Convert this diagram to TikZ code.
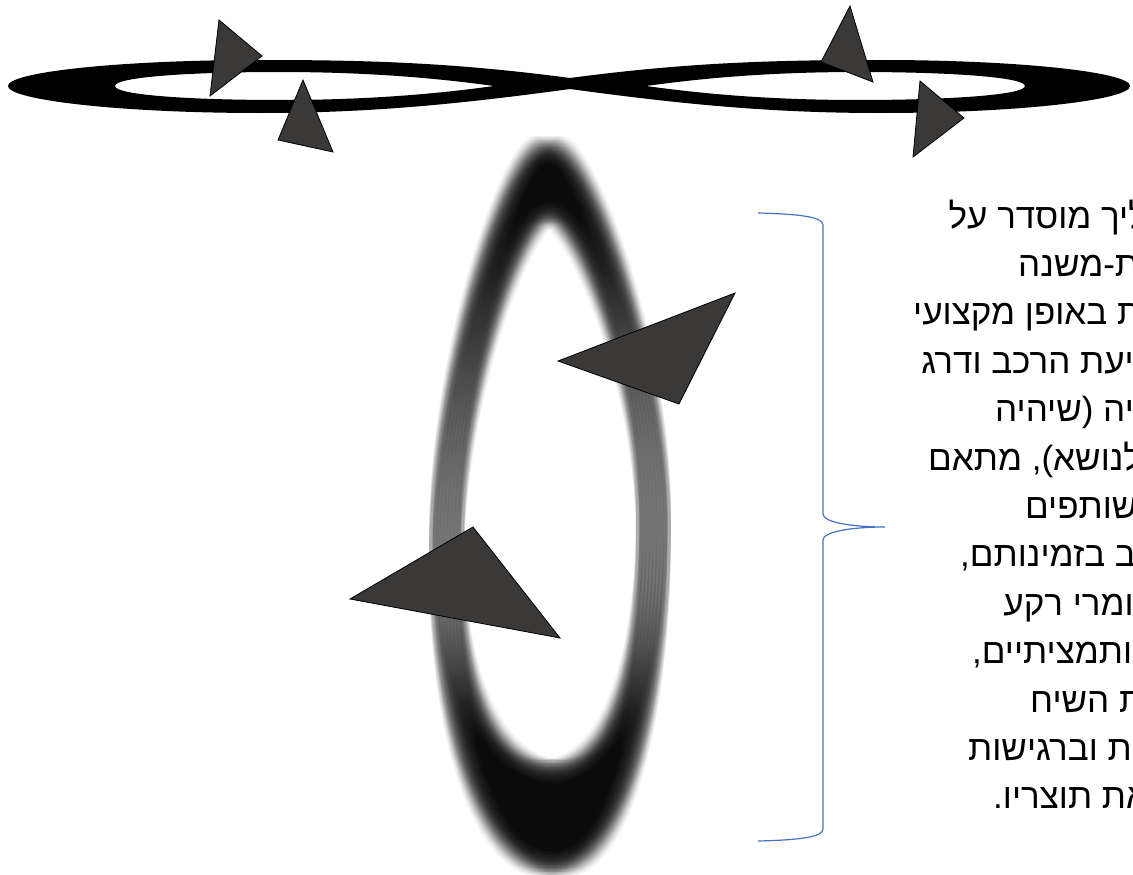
\documentclass[tikz,border=0pt]{standalone}
\usepackage{fontspec}
\newfontfamily\hebfont[Script=Hebrew]{Liberation Sans}
\TeXXeTstate=1
\definecolor{trigray}{RGB}{58,57,55}
\definecolor{braceblue}{RGB}{68,114,196}
\begin{document}
\begin{tikzpicture}[x=1pt,y=-1pt,
  tri/.style={fill=trigray,draw=black,line width=0.8pt,line join=miter},
  bracepath/.style={draw=braceblue,line width=1.2pt},
  txt/.style={inner sep=0pt,anchor=base west,font=\hebfont\fontsize{35}{42}\selectfont},
  txtr/.style={txt,anchor=base east}]
\useasboundingbox (0,0) rectangle (1133,875);
\clip (0,0) rectangle (1133,875);
% ---- blurred vertical ring
\foreach \dx in {-14,-10.5,-7,-3.5,0,3.5,7,10.5,14}{
 \foreach \dy in {-14,-10.5,-7,-3.5,0,3.5,7,10.5,14}{
  \fill[black,opacity=0.045,even odd rule,shift={(\dx,\dy)}]
   (548,150) .. controls (515,150) and (443,370) .. (443,550)
   .. controls (443,730) and (490,862) .. (553,862)
   .. controls (618,862) and (657,700) .. (657,525)
   .. controls (657,360) and (582,150) .. (548,150) -- cycle
   (549,208) .. controls (517,208) and (450,390) .. (450,550)
   .. controls (450,700) and (495,774) .. (553,774)
   .. controls (612,774) and (650,680) .. (650,525)
   .. controls (650,370) and (580,208) .. (549,208) -- cycle;
 }}
% ---- infinity sign
\fill[black,even odd rule]
 (570,78) .. controls (450,62) and (360,60) .. (260,60)
 .. controls (120,60) and (8,72) .. (8,86)
 .. controls (8,100) and (120,113) .. (260,113)
 .. controls (370,113) and (460,104) .. (570,89)
 .. controls (680,104) and (770,113) .. (880,113)
 .. controls (1018,113) and (1130,100) .. (1130,86)
 .. controls (1130,72) and (1018,60) .. (880,60)
 .. controls (780,60) and (690,62) .. (570,78) -- cycle
 (115,86) .. controls (115,77) and (190,72) .. (280,72)
 .. controls (380,72) and (450,80) .. (494,86)
 .. controls (450,92) and (380,100) .. (280,100)
 .. controls (190,100) and (115,95) .. (115,86) -- cycle
 (1025,86) .. controls (1025,77) and (948,72) .. (858,72)
 .. controls (758,72) and (690,80) .. (646,86)
 .. controls (690,92) and (758,100) .. (858,100)
 .. controls (948,100) and (1025,95) .. (1025,86) -- cycle;
% ---- triangles
\draw[tri] (219,20) -- (262,56) -- (210,96) -- cycle;
\draw[tri] (303,80) -- (333,152) -- (278,140) -- cycle;
\draw[tri] (850,6) -- (873,82) -- (821,62) -- cycle;
\draw[tri] (920,81) -- (964,118) -- (913,157) -- cycle;
\draw[tri] (558,361) -- (735,293) -- (679,404) -- cycle;
\draw[tri] (350,599) -- (473,527) -- (560,638) -- cycle;
% ---- brace
\coordinate (bt) at (758,213);
\coordinate (bm) at (885,527);
\coordinate (bb) at (758,841);
\draw[bracepath] (bt) .. controls (800,214) and (823,217) .. (823,225)
 -- (823,514) .. controls (823,522) and (850,527) .. (bm)
 .. controls (850,527) and (823,532) .. (823,540)
 -- (823,829) .. controls (823,837) and (800,840) .. (bb);
% ---- text
\node[txtr] (l1) at (1147,228) {\beginR ליך מוסדר על\endR};
\node[txt] (l2) at (1018,276.4) {\beginR ת-משנה\endR};
\node[txt] (l3) at (913,324.8) {\beginR ת באופן מקצועי\endR};
\node[txtr] (l4) at (1134,373.2) {\beginR יעת הרכב ודרג\endR};
\node[txtr] (l5) at (1134,421.6) {\beginR יה (שיהיה\endR};
\node[txt] (l6) at (928,470) {\beginR לנושא), מתאם\endR};
\node[txt] (l7) at (1025,518.4) {\beginR שותפים\endR};
\node[txt] (l8) at (960,566.8) {\beginR ב בזמינותם,\endR};
\node[txtr] (l9) at (1134,615.2) {\beginR ומרי רקע\endR};
\node[txt] (l10) at (972,663.6) {\beginR ותמציתיים,\endR};
\node[txt] (l11) at (1030,712) {\beginR ת השיח\endR};
\node[txt] (l12) at (968,760.4) {\beginR ת וברגישות\endR};
\node[txt] (l13) at (993,808.8) {\beginR את תוצריו.\endR};
\end{tikzpicture}
\end{document}
